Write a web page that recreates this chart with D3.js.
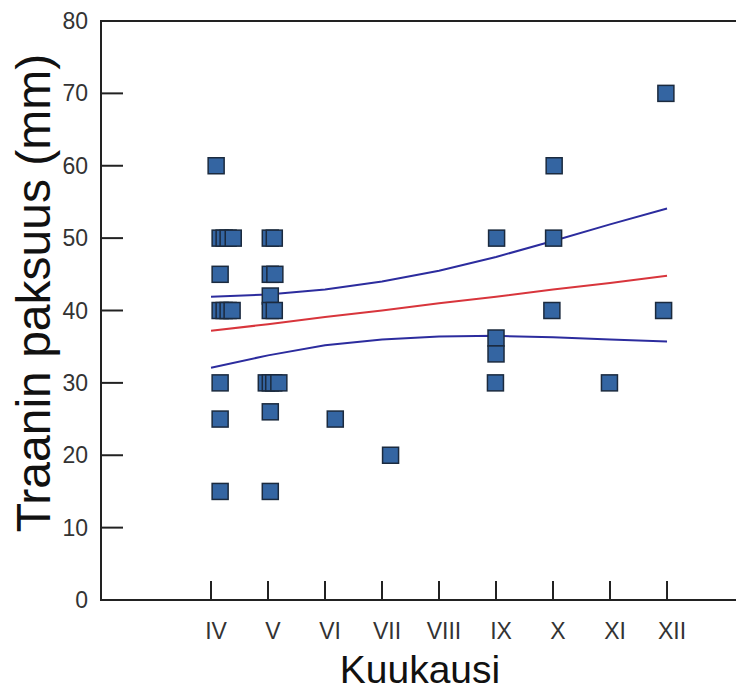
<!DOCTYPE html>
<html>
<head>
<meta charset="utf-8">
<script src="https://d3js.org/d3.v7.min.js"></script>
<style>
  body { margin: 0; background: white; }
  svg { display: block; font-family: "Liberation Sans", Arial, sans-serif; }
</style>
</head>
<body>
<script>
    var svgWidth = 738;
    var svgHeight = 690;

    // month ticks (roman numerals) and their month number
    var monthNums = [4, 5, 6, 7, 8, 9, 10, 11, 12];
    var monthLabels = ["IV", "V", "VI", "VII", "VIII", "IX", "X", "XI", "XII"];
    var yTicks = [0, 10, 20, 30, 40, 50, 60, 70, 80];

    // observations: month (decimal) and thickness (mm)
    var obsMonth = [
        4.09,
        4.16, 4.23, 4.30, 4.39,
        4.16,
        4.16, 4.23, 4.30, 4.37,
        4.16, 4.16, 4.16,
        5.04, 5.11,
        5.04, 5.12,
        5.04,
        5.04, 5.11,
        4.97, 5.04, 5.10, 5.19,
        5.04, 5.04,
        6.18, 7.15,
        9.01, 9.00, 9.00, 8.99,
        10.02, 10.01, 9.98,
        10.99,
        11.98, 11.94
    ];
    var obsValue = [
        60,
        50, 50, 50, 50,
        45,
        40, 40, 40, 40,
        30, 25, 15,
        50, 50,
        45, 45,
        42,
        40, 40,
        30, 30, 30, 30,
        26, 15,
        25, 20,
        50, 36.2, 34, 30,
        60, 50, 40,
        30,
        70, 40
    ];

    // regression line and confidence band, read at each month
    var fitValues   = [37.2, 38.1, 39.1, 40.0, 41.0, 41.9, 42.9, 43.8, 44.8];
    var upperValues = [41.9, 42.2, 42.9, 44.0, 45.5, 47.4, 49.6, 51.9, 54.1];
    var lowerValues = [32.1, 33.8, 35.2, 36.0, 36.4, 36.5, 36.3, 36.0, 35.7];

    var axisColor = "#222";
    var textColor = "#333";

    var svg = d3.select("body")
        .append("svg")
        .attr("width", svgWidth)
        .attr("height", svgHeight);

    var x = d3.scaleLinear().domain([2.07, 13.21]).range([101, 736]);
    var y = d3.scaleLinear().domain([0, 80]).range([600, 21]);

    // frame: left, bottom and top lines
    svg.append("path")
        .attr("d", "M" + x.range()[1] + "," + y(80) + "H" + x.range()[0] + "V" + y(0) + "H" + x.range()[1])
        .attr("fill", "none")
        .attr("stroke", axisColor)
        .attr("stroke-width", 2);

    // y ticks (inward) and labels
    svg.selectAll(".ytick")
        .data(yTicks)
        .enter().append("line")
        .attr("x1", x.range()[0])
        .attr("x2", x.range()[0] + 22)
        .attr("y1", function(d) { return y(d); })
        .attr("y2", function(d) { return y(d); })
        .attr("stroke", axisColor)
        .attr("stroke-width", 2);

    svg.selectAll(".ylab")
        .data(yTicks)
        .enter().append("text")
        .attr("x", 88)
        .attr("y", function(d) { return y(d); })
        .attr("dy", "0.35em")
        .attr("text-anchor", "end")
        .attr("font-size", 23)
        .attr("fill", textColor)
        .text(function(d) { return d; });

    // x ticks (upward) and labels
    svg.selectAll(".xtick")
        .data(monthNums)
        .enter().append("line")
        .attr("x1", function(d) { return x(d); })
        .attr("x2", function(d) { return x(d); })
        .attr("y1", y(0))
        .attr("y2", y(0) - 19)
        .attr("stroke", axisColor)
        .attr("stroke-width", 2);

    svg.selectAll(".xlab")
        .data(monthNums)
        .enter().append("text")
        .attr("x", function(d) { return x(d) + 5; })
        .attr("y", 639)
        .attr("text-anchor", "middle")
        .attr("font-size", 23)
        .attr("fill", textColor)
        .text(function(d, i) { return monthLabels[i]; });

    // axis titles
    svg.append("text")
        .attr("x", 420)
        .attr("y", 683)
        .attr("text-anchor", "middle")
        .attr("font-size", 39)
        .attr("fill", "#111")
        .text("Kuukausi");

    svg.append("text")
        .attr("transform", "translate(50,293) rotate(-90)")
        .attr("text-anchor", "middle")
        .attr("font-size", 48)
        .attr("fill", "#111")
        .text("Traanin paksuus (mm)");

    // regression line + band
    var line = d3.line()
        .x(function(d, i) { return x(monthNums[i]); })
        .y(function(d) { return y(d); });

    svg.append("path").attr("d", line(upperValues))
        .attr("fill", "none").attr("stroke", "#2c2c9e").attr("stroke-width", 2);
    svg.append("path").attr("d", line(lowerValues))
        .attr("fill", "none").attr("stroke", "#2c2c9e").attr("stroke-width", 2);
    svg.append("path").attr("d", line(fitValues))
        .attr("fill", "none").attr("stroke", "#d8353c").attr("stroke-width", 2);

    // squares
    var size = 16;
    svg.selectAll(".pt")
        .data(obsMonth)
        .enter().append("rect")
        .attr("x", function(d) { return x(d) - size / 2; })
        .attr("y", function(d, i) { return y(obsValue[i]) - size / 2; })
        .attr("width", size)
        .attr("height", size)
        .attr("fill", "#3465a2")
        .attr("stroke", "#1b2a3e")
        .attr("stroke-width", 1.5);
</script>
</body>
</html>
